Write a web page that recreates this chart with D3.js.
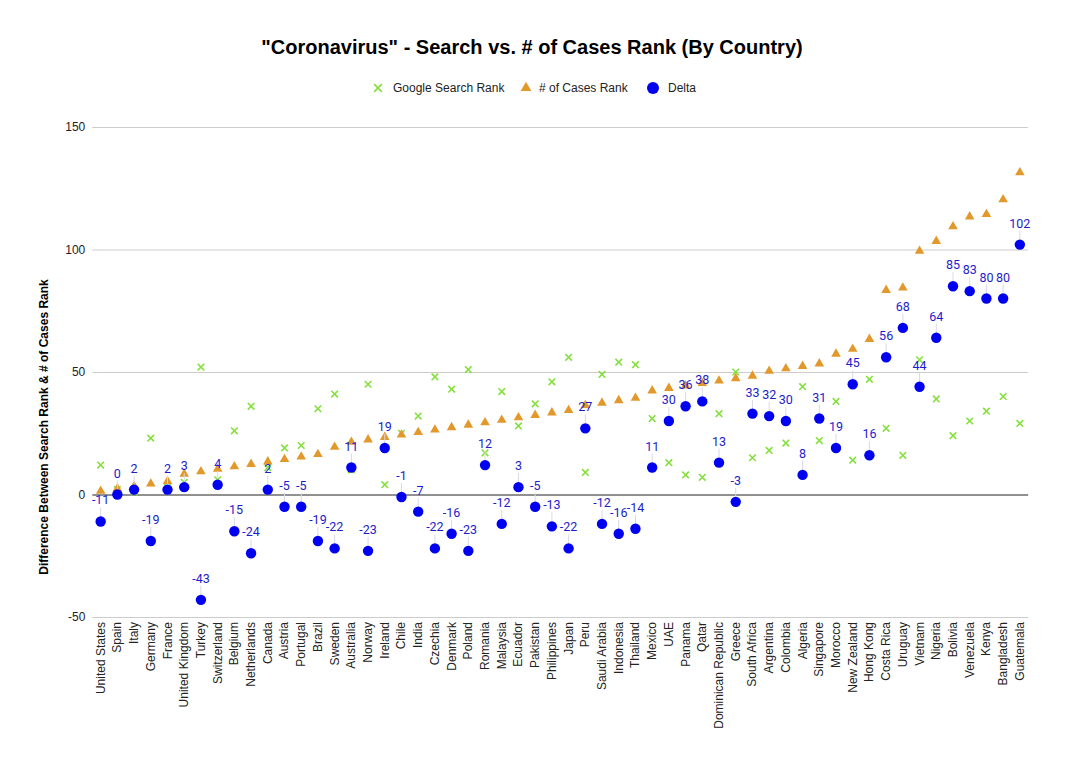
<!DOCTYPE html>
<html>
<head>
<meta charset="utf-8">
<script src="https://cdn.jsdelivr.net/npm/d3@7"></script>
<style>
  html, body { margin: 0; padding: 0; background: #fff; }
  svg { display: block; font-family: "Liberation Sans", Arial, sans-serif; }
</style>
</head>
<body>
<svg id="chart" width="1065" height="767"></svg>
<script>
const countries = ["United States","Spain","Italy","Germany","France","United Kingdom","Turkey","Switzerland","Belgium","Netherlands","Canada","Austria","Portugal","Brazil","Sweden","Australia","Norway","Ireland","Chile","India","Czechia","Denmark","Poland","Romania","Malaysia","Ecuador","Pakistan","Philippines","Japan","Peru","Saudi Arabia","Indonesia","Thailand","Mexico","UAE","Panama","Qatar","Dominican Republic","Greece","South Africa","Argentina","Colombia","Algeria","Singapore","Morocco","New Zealand","Hong Kong","Costa Rica","Uruguay","Vietnam","Nigeria","Bolivia","Venezuela","Kenya","Bangladesh","Guatemala"];

const searchRank = [12,2,1,23,3,5,52,6,26,36,11,19,20,35,41,10,45,4,25,32,48,43,51,17,42,28,37,46,56,9,49,54,53,31,13,8,7,33,50,15,18,21,44,22,38,14,47,27,16,55,39,24,30,34,40,29];

const casesRank = [1,2,3,4,5,8,9,10,11,12,13,14,15,16,19,21,22,23,24,25,26,27,28,29,30,31,32,33,34,36,37,38,39,42,43,44,45,46,47,48,50,51,52,53,57,59,63,83,84,99,103,109,113,114,120,131];

const delta = [-11,0,2,-19,2,3,-43,4,-15,-24,2,-5,-5,-19,-22,11,-23,19,-1,-7,-22,-16,-23,12,-12,3,-5,-13,-22,27,-12,-16,-14,11,30,36,38,13,-3,33,32,30,8,31,19,45,16,56,68,44,64,85,83,80,80,102];

const yTicks = [-50, 0, 50, 100, 150];

const title = "\"Coronavirus\" - Search vs. # of Cases Rank (By Country)";
const yTitle = "Difference Between Search Rank & # of Cases Rank";
const seriesNames = ["Google Search Rank", "# of Cases Rank", "Delta"];
const colors = { search: "#84e03c", cases: "#e3982b", delta: "#0000f0", label: "#1c1ccc" };

const svg = d3.select("#chart");

const x = d3.scaleBand().domain(countries).range([92.3, 1028.2]).padding(0);
const cx = d => x(d) + x.bandwidth() / 2;
const y = d3.scaleLinear().domain([-50, 150]).range([617, 127]);

// Title
svg.append("text")
  .attr("x", 532).attr("y", 54)
  .attr("text-anchor", "middle")
  .attr("font-size", 20).attr("font-weight", "bold")
  .attr("fill", "#000")
  .text(title);

// Gridlines
const yAxis = d3.axisLeft(y).tickValues(yTicks).tickFormat(d => String(d))
  .tickSize(-(1028.2 - 92.3)).tickPadding(7);
const gy = svg.append("g").attr("transform", "translate(92.3,0)").call(yAxis);
gy.select(".domain").remove();
gy.selectAll(".tick line").attr("stroke", d => d === 0 ? "#222" : "#cccccc").attr("stroke-width", 1);
gy.selectAll(".tick text").attr("font-size", 12).attr("fill", "#222").attr("font-family", "'Liberation Sans', Arial, sans-serif");
gy.selectAll(".tick").filter(d => d === 0).raise();

// Y title
svg.append("text")
  .attr("transform", `translate(48,427) rotate(-90)`)
  .attr("text-anchor", "middle")
  .attr("font-size", 12).attr("font-weight", "bold")
  .attr("fill", "#000")
  .text(yTitle);

// X labels
const xAxis = d3.axisBottom(x).tickSize(0).tickPadding(0);
const gx = svg.append("g").attr("transform", `translate(0,${y(-50)})`).call(xAxis);
gx.select(".domain").remove();
gx.selectAll(".tick text")
  .attr("font-size", 12).attr("fill", "#222")
  .attr("font-family", "'Liberation Sans', Arial, sans-serif")
  .attr("text-anchor", "end")
  .attr("dy", null)
  .attr("transform", "translate(4,5) rotate(-90)")
  .attr("y", 0).attr("x", 0);

const data = countries.map((c, i) => ({ c, s: searchRank[i], k: casesRank[i], d: delta[i] }));

// Search rank (X markers)
const cross = d3.symbol().type(d3.symbolX).size(30);
svg.append("g").selectAll("path").data(data).join("path")
  .attr("d", cross)
  .attr("transform", d => `translate(${cx(d.c)},${y(d.s)})`)
  .attr("fill", "none").attr("stroke", colors.search).attr("stroke-width", 1.6);

// Cases rank (triangles)
const tri = d3.symbol().type(d3.symbolTriangle).size(40);
svg.append("g").selectAll("path").data(data).join("path")
  .attr("d", tri)
  .attr("transform", d => `translate(${cx(d.c)},${y(d.k) - 1})`)
  .attr("fill", colors.cases);

// Delta leader lines
svg.append("g").selectAll("line").data(data).join("line")
  .attr("x1", d => cx(d.c)).attr("x2", d => cx(d.c))
  .attr("y1", d => y(d.d) - 5).attr("y2", d => y(d.d) - 14)
  .attr("stroke", "#d8d8e8").attr("stroke-width", 1);

// Delta circles
svg.append("g").selectAll("circle").data(data).join("circle")
  .attr("cx", d => cx(d.c)).attr("cy", d => y(d.d))
  .attr("r", 5.2).attr("fill", colors.delta);

// Delta labels
svg.append("g").selectAll("text").data(data).join("text")
  .attr("x", d => cx(d.c)).attr("y", d => y(d.d) - 17)
  .attr("text-anchor", "middle")
  .attr("font-size", 12.5)
  .attr("font-family", "Roboto, 'Liberation Sans', sans-serif")
  .attr("fill", colors.label)
  .text(d => d.d);

// Legend
const leg = svg.append("g").attr("font-size", 12).attr("fill", "#222");
leg.append("path").attr("d", d3.symbol().type(d3.symbolX).size(40)())
  .attr("transform", "translate(378,88)")
  .attr("fill", "none").attr("stroke", colors.search).attr("stroke-width", 1.6);
leg.append("text").attr("x", 393).attr("y", 92).text(seriesNames[0]);
leg.append("path").attr("d", d3.symbol().type(d3.symbolTriangle).size(50)())
  .attr("transform", "translate(526,88)").attr("fill", colors.cases);
leg.append("text").attr("x", 539).attr("y", 92).text(seriesNames[1]);
leg.append("circle").attr("cx", 653).attr("cy", 88).attr("r", 6).attr("fill", colors.delta);
leg.append("text").attr("x", 668).attr("y", 92).text(seriesNames[2]);
</script>
</body>
</html>
